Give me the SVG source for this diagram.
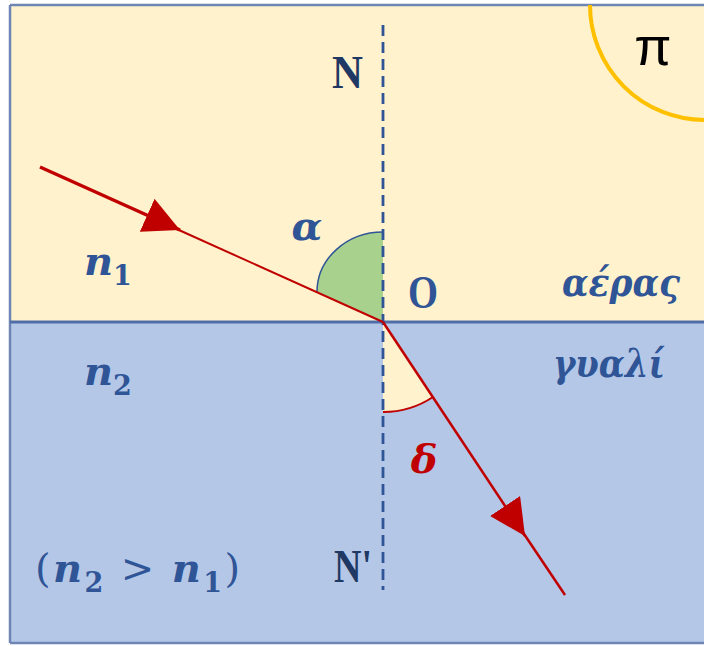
<svg xmlns="http://www.w3.org/2000/svg" width="704" height="646" viewBox="0 0 704 646">
<style>
.lbl{font-family:"DejaVu Serif","Liberation Serif",serif;font-weight:bold;font-style:italic;fill:#2F5597}
.up{font-family:"Liberation Serif","DejaVu Serif",serif;font-weight:bold;fill:#1F3864}
.ray{stroke:#C00000;stroke-width:2.5;fill:none}
.sub{font-style:normal;font-size:27px}
.nrm{font-style:normal;font-weight:normal}
</style>
<defs>
<marker id="ah" viewBox="0 0 10 10" refX="10" refY="5" markerWidth="36" markerHeight="36" markerUnits="userSpaceOnUse" orient="auto">
<path d="M0,0 L10,5 L0,10 Z" fill="#C00000"/>
</marker>
</defs>
<rect width="704" height="646" fill="#FFFFFF"/>
<g id="air"><rect x="10" y="5" width="700" height="317" fill="#FFF2CC"/></g>
<g id="glass"><rect x="10" y="322" width="700" height="321" fill="#B4C7E7"/></g>
<g id="frame" fill="none" stroke="#6F86B5" stroke-width="2.5">
<line x1="10" y1="5" x2="704" y2="5"/>
<line x1="10" y1="5" x2="10" y2="643"/>
<line x1="10" y1="643" x2="704" y2="643"/>
<line x1="10" y1="322" x2="704" y2="322" stroke="#4F6EA8" stroke-width="3"/>
</g>
<g id="angle-a">
<path d="M383,322 L317,292 A66,60 0 0 1 383,232 Z" fill="#A9D18E"/>
<path d="M317,292 A66,60 0 0 1 383,232" fill="none" stroke="#2F5597" stroke-width="1.5"/>
</g>
<g id="angle-d">
<path d="M383,322 L433,397 A90,90 0 0 1 383,412 Z" fill="#FFF2CC"/>
<path d="M433,397 A90,90 0 0 1 383,412" fill="none" stroke="#C00000" stroke-width="2"/>
</g>
<g id="normal"><line x1="383" y1="25" x2="383" y2="590" stroke="#2F5597" stroke-width="2.8" stroke-dasharray="11,6"/></g>
<g id="connectors">
<line class="ray" x1="40" y1="167" x2="180" y2="230" marker-end="url(#ah)" style="stroke-width:3.5"/>
<line class="ray" x1="170" y1="226" x2="383" y2="322" style="stroke-width:2"/>
<line class="ray" x1="383" y1="322" x2="525" y2="536" marker-end="url(#ah)"/>
<line class="ray" x1="520" y1="528" x2="565" y2="595"/>
</g>
<g id="pi">
<path d="M590,5 A115,115 0 0 0 705,120" fill="none" stroke="#FFC000" stroke-width="4"/>
<text x="653" y="65" font-family="'Liberation Sans','DejaVu Sans',sans-serif" font-size="54" text-anchor="middle" fill="#000000">π</text>
</g>
<g id="labels">
<text class="up" x="332" y="88" font-size="46" textLength="31" lengthAdjust="spacingAndGlyphs">N</text>
<text class="up" x="334" y="582" font-size="46" textLength="38" lengthAdjust="spacingAndGlyphs">N'</text>
<text class="up" x="408" y="308" font-size="46" textLength="30" lengthAdjust="spacingAndGlyphs" style="fill:#2F5597">O</text>
<text class="lbl" x="307" y="240" font-size="40" text-anchor="middle">α</text>
<text class="lbl" x="424" y="473" font-size="40" text-anchor="middle" style="fill:#C00000">δ</text>
<text class="lbl" x="84" y="275" font-size="40">n<tspan class="sub" dy="10">1</tspan></text>
<text class="lbl" x="84" y="385" font-size="40">n<tspan class="sub" dy="10">2</tspan></text>
<text class="lbl" x="562" y="296" font-size="40" textLength="118" lengthAdjust="spacingAndGlyphs">αέρας</text>
<text class="lbl" x="553" y="377" font-size="40" textLength="112" lengthAdjust="spacingAndGlyphs">γυαλί</text>
<text class="lbl" x="35" y="582" font-size="40" textLength="205" lengthAdjust="spacing"><tspan class="nrm">(</tspan>n<tspan class="sub" dy="10">2</tspan><tspan class="nrm" dy="-10"> &gt; </tspan>n<tspan class="sub" dy="10">1</tspan><tspan class="nrm" dy="-10">)</tspan></text>
</g>
</svg>
